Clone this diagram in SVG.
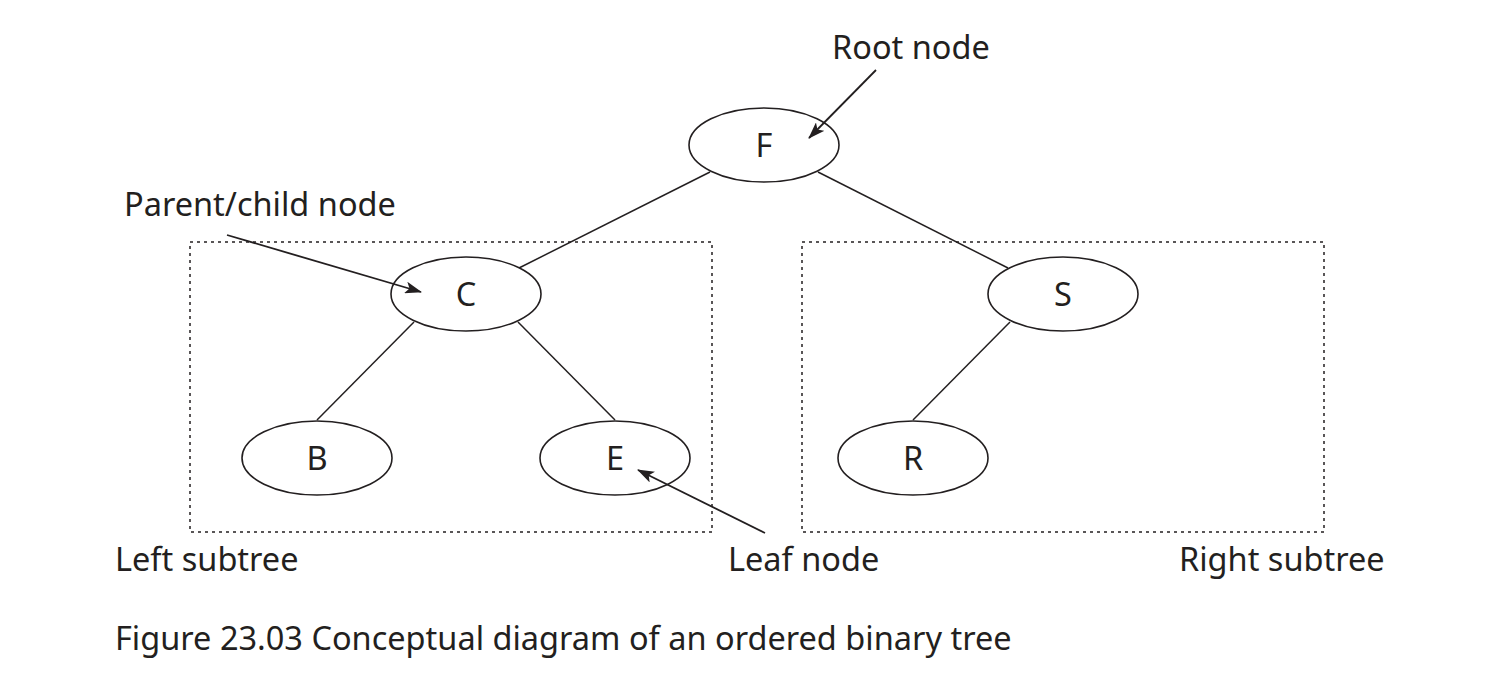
<svg xmlns="http://www.w3.org/2000/svg" width="1502" height="680" viewBox="0 0 1502 680">
<style>
.n{fill:#fff;stroke:#231f20;stroke-width:1.6}
.e{stroke:#231f20;stroke-width:1.5;fill:none}
.a{stroke:#231f20;stroke-width:1.8;fill:none;marker-end:url(#ah)}
.box{fill:none;stroke:#231f20;stroke-width:1.5;stroke-dasharray:3 4}
text{font-family:"Noto Sans","Open Sans",sans-serif;font-size:32.5px;fill:#231f20}
.c{text-anchor:middle}
</style>
<defs>
<marker id="ah" markerWidth="18" markerHeight="12" refX="16" refY="6" orient="auto" markerUnits="userSpaceOnUse">
<path d="M0,0 L17,6 L0,12 L4,6 Z" fill="#231f20"/>
</marker>
</defs>
<g id="subtrees">
<rect class="box" x="190" y="242" width="522" height="290"/>
<rect class="box" x="802" y="242" width="522" height="290"/>
</g>
<g id="connectors">
<line class="e" x1="710" y1="172" x2="519" y2="268"/>
<line class="e" x1="818" y1="172" x2="1008" y2="268"/>
<line class="e" x1="414" y1="322" x2="317" y2="420"/>
<line class="e" x1="518" y1="322" x2="615" y2="420"/>
<line class="e" x1="1010" y1="322" x2="913" y2="420"/>
</g>
<g id="node-F"><ellipse class="n" cx="764" cy="145" rx="75" ry="37"/><text class="c" x="764" y="157">F</text></g>
<g id="node-C"><ellipse class="n" cx="466" cy="294" rx="75" ry="37"/><text class="c" x="466" y="306">C</text></g>
<g id="node-S"><ellipse class="n" cx="1063" cy="294" rx="75" ry="37"/><text class="c" x="1063" y="306">S</text></g>
<g id="node-B"><ellipse class="n" cx="317" cy="458" rx="75" ry="37"/><text class="c" x="317" y="470">B</text></g>
<g id="node-E"><ellipse class="n" cx="615" cy="458" rx="75" ry="37"/><text class="c" x="615" y="470">E</text></g>
<g id="node-R"><ellipse class="n" cx="913" cy="458" rx="75" ry="37"/><text class="c" x="913" y="470">R</text></g>
<g id="annotation-arrows">
<line class="a" x1="876" y1="70" x2="809" y2="138"/>
<line class="a" x1="227" y1="235" x2="421" y2="292"/>
<line class="a" x1="765" y1="533" x2="638" y2="470"/>
</g>
<g id="labels">
<text x="832" y="59">Root node</text>
<text x="124" y="216">Parent/child node</text>
<text x="115" y="571">Left subtree</text>
<text x="728" y="571">Leaf node</text>
<text x="1179" y="571">Right subtree</text>
<text x="115" y="650">Figure 23.03 Conceptual diagram of an ordered binary tree</text>
</g>
</svg>
